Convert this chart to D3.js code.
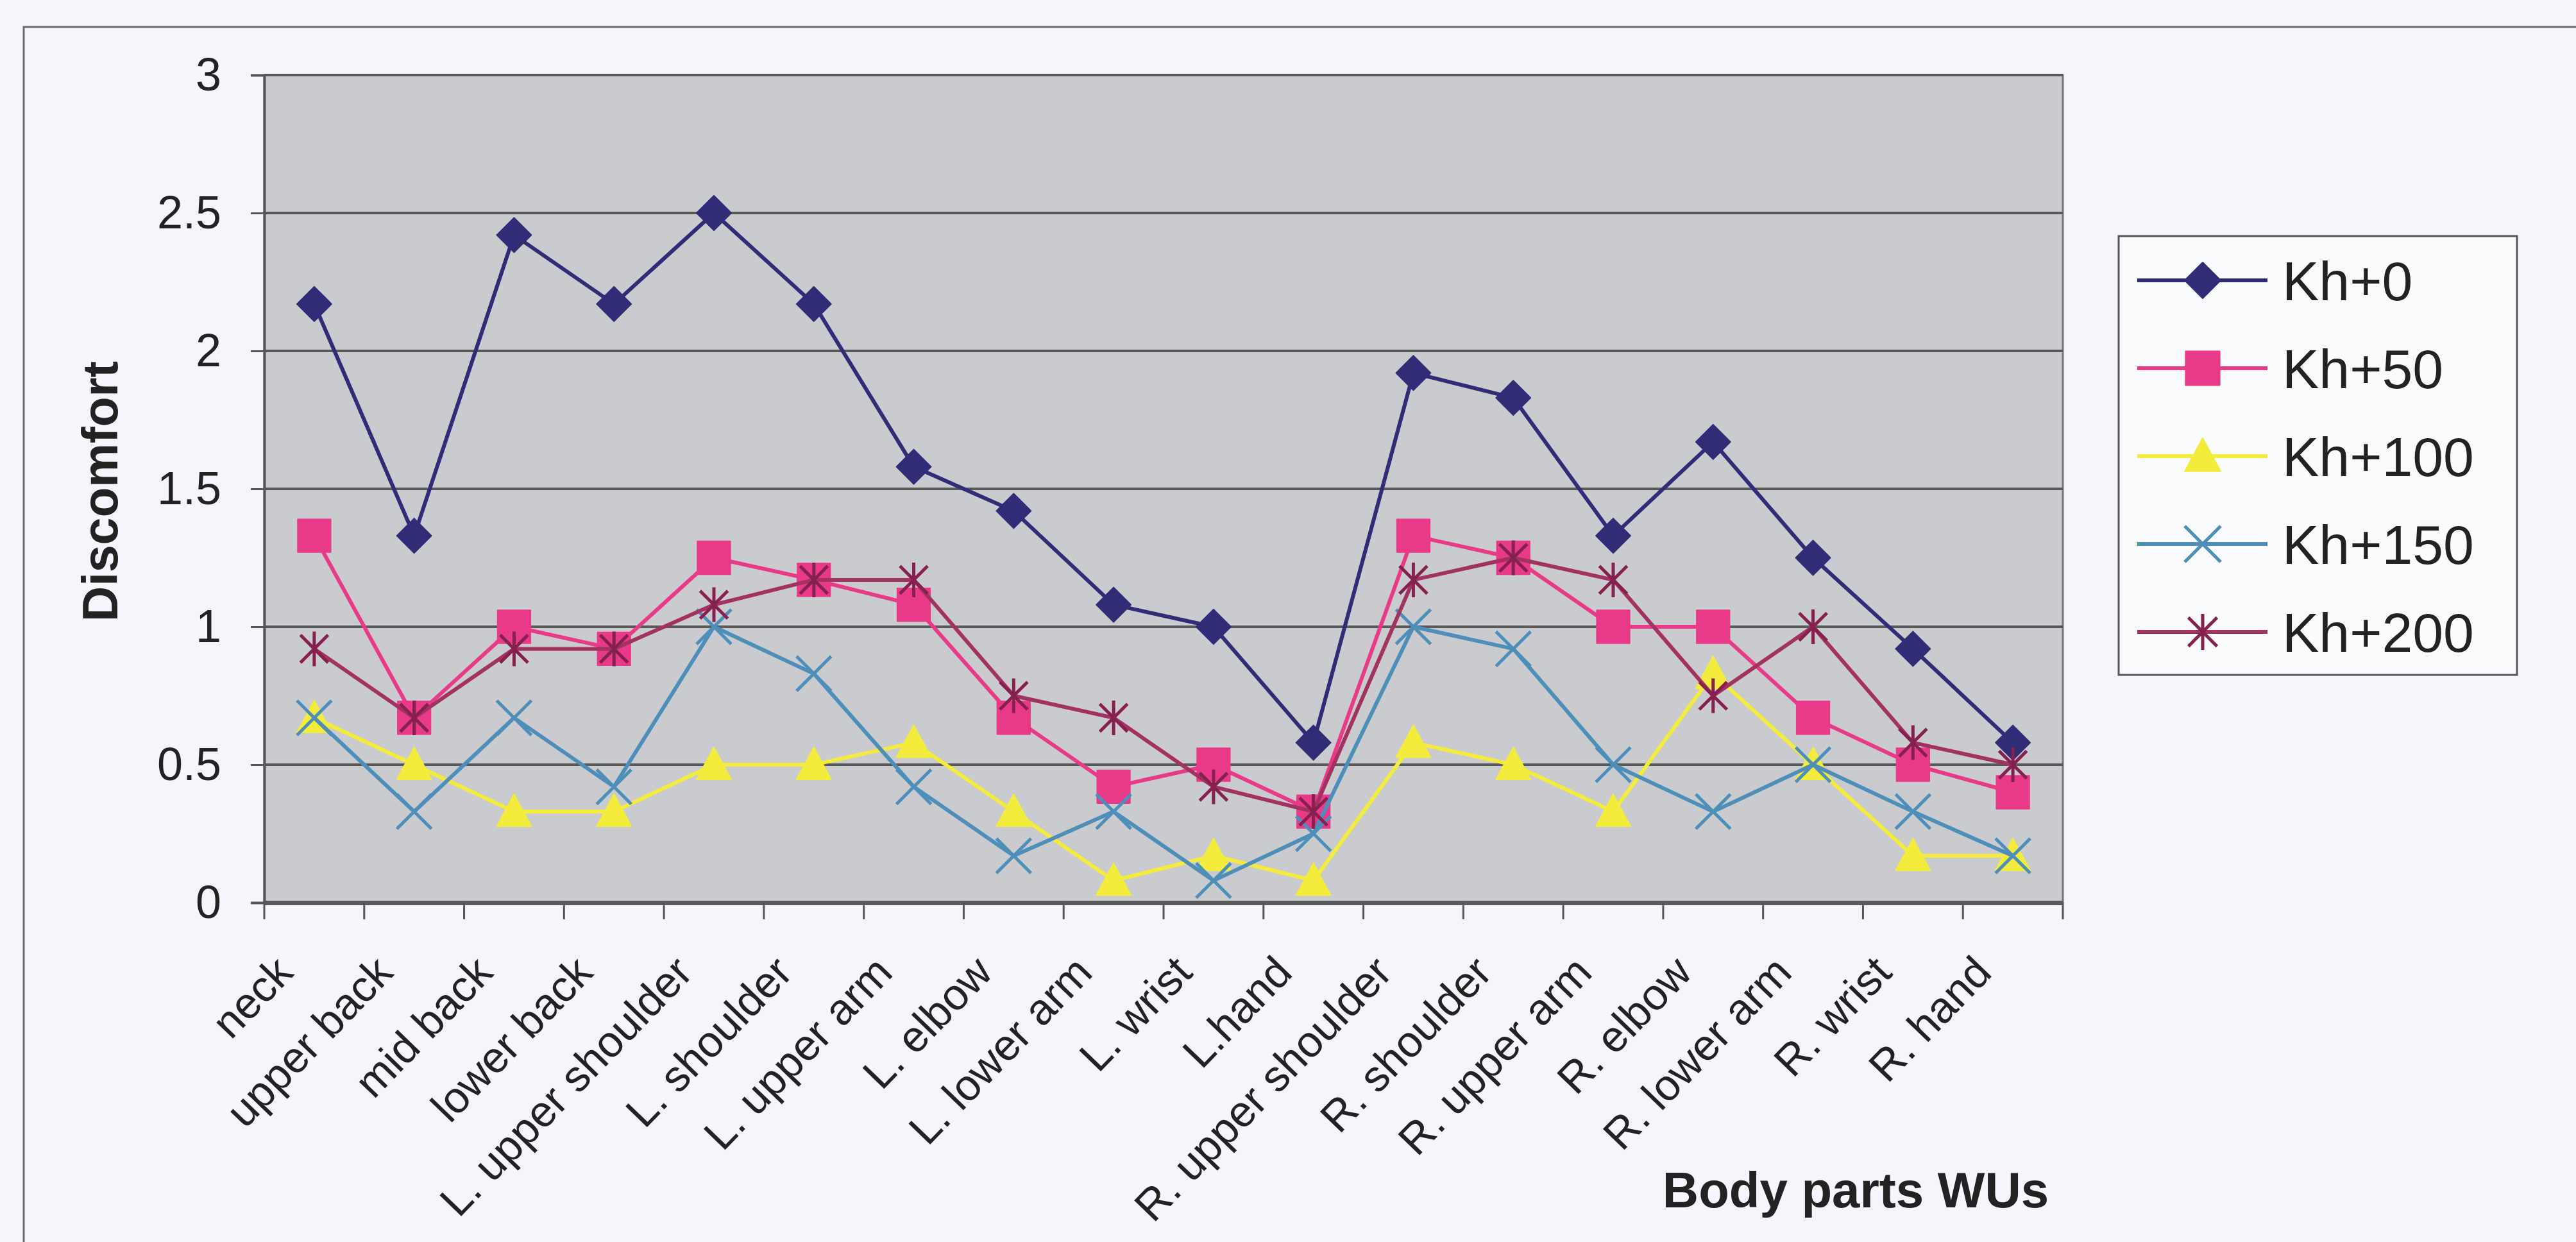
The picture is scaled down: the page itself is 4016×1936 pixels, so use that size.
<!DOCTYPE html>
<html>
<head>
<meta charset="utf-8">
<script src="https://cdn.jsdelivr.net/npm/d3@7"></script>
<style>
  html, body { margin: 0; padding: 0; background: #f4f6fb; }
  svg { display: block; }
</style>
</head>
<body>
<div id="wrapper"></div>
<script>
const bodyParts = ["neck", "upper back", "mid back", "lower back", "L. upper shoulder",
  "L. shoulder", "L. upper arm", "L. elbow", "L. lower arm", "L. wrist", "L.hand",
  "R. upper shoulder", "R. shoulder", "R. upper arm", "R. elbow", "R. lower arm",
  "R. wrist", "R. hand"];

const seriesNames = ["Kh+0", "Kh+50", "Kh+100", "Kh+150", "Kh+200"];

const kh0   = [2.17, 1.33, 2.42, 2.17, 2.50, 2.17, 1.58, 1.42, 1.08, 1.00, 0.58, 1.92, 1.83, 1.33, 1.67, 1.25, 0.92, 0.58];
const kh50  = [1.33, 0.67, 1.00, 0.92, 1.25, 1.17, 1.08, 0.67, 0.42, 0.50, 0.33, 1.33, 1.25, 1.00, 1.00, 0.67, 0.50, 0.40];
const kh100 = [0.67, 0.50, 0.33, 0.33, 0.50, 0.50, 0.58, 0.33, 0.08, 0.17, 0.08, 0.58, 0.50, 0.33, 0.83, 0.50, 0.17, 0.17];
const kh150 = [0.67, 0.33, 0.67, 0.42, 1.00, 0.83, 0.42, 0.17, 0.33, 0.08, 0.25, 1.00, 0.92, 0.50, 0.33, 0.50, 0.33, 0.17];
const kh200 = [0.92, 0.67, 0.92, 0.92, 1.08, 1.17, 1.17, 0.75, 0.67, 0.42, 0.33, 1.17, 1.25, 1.17, 0.75, 1.00, 0.58, 0.50];

const yTicks = [0, 0.5, 1, 1.5, 2, 2.5, 3];

const LINE_COLORS = ["#302c76", "#e83a88", "#f3ec3c", "#4e8fba", "#a23260"];
const MARK_COLORS = ["#302c76", "#e83a88", "#f3ec3c", "#4e8fba", "#86204e"];
const MARKERS = ["diamond", "square", "triangle", "cross", "star"];
const FONT = "'Liberation Sans', Arial, sans-serif";

const series = seriesNames.map((name, i) => ({
  name,
  values: [kh0, kh50, kh100, kh150, kh200][i],
  line: LINE_COLORS[i],
  mark: MARK_COLORS[i],
  marker: MARKERS[i]
}));

const width = 4016;
const height = 1936;
const plot = { left: 412, right: 3216, top: 117, bottom: 1407 };

// marker path centred at 0,0
const markerPath = (type, s) => {
  const h = s / 2;
  switch (type) {
    case "diamond": return `M0,${-h}L${h},0L0,${h}L${-h},0Z`;
    case "square": return `M${-h * 0.95},${-h * 0.95}H${h * 0.95}V${h * 0.95}H${-h * 0.95}Z`;
    case "triangle": return `M0,${-h}L${h},${h * 0.85}L${-h},${h * 0.85}Z`;
    case "cross": return `M${-h},${-h}L${h},${h}M${h},${-h}L${-h},${h}`;
    default: return `M${-h * 0.8},${-h * 0.8}L${h * 0.8},${h * 0.8}M${h * 0.8},${-h * 0.8}L${-h * 0.8},${h * 0.8}M0,${-h}V${h}`;
  }
};

const drawMarker = (sel, d, size) => {
  const open = d.marker === "cross" || d.marker === "star";
  sel.attr("d", markerPath(d.marker, size))
    .attr("fill", open ? "none" : d.mark)
    .attr("stroke", d.mark)
    .attr("stroke-width", open ? 5 : 2)
    .attr("stroke-linejoin", "round");
};

const svg = d3.select("#wrapper")
  .append("svg")
  .attr("width", width)
  .attr("height", height);

svg.append("rect")
  .attr("width", width).attr("height", height)
  .attr("fill", "#f4f6fb");

// outer chart frame (only top & left visible in the scan)
svg.append("path")
  .attr("d", `M37,${height}V42H${width}`)
  .attr("fill", "none")
  .attr("stroke", "#6a6a6a")
  .attr("stroke-width", 3);

const xScale = d3.scaleBand()
  .domain(bodyParts)
  .range([plot.left, plot.right]);

const yScale = d3.scaleLinear()
  .domain([0, 3])
  .range([plot.bottom, plot.top]);

// plot area
svg.append("rect")
  .attr("x", plot.left).attr("y", plot.top)
  .attr("width", plot.right - plot.left)
  .attr("height", plot.bottom - plot.top)
  .attr("fill", "#cacbcf")
  .attr("stroke", "#777")
  .attr("stroke-width", 3);

// gridlines
svg.append("g")
  .selectAll("line")
  .data(yTicks.filter(t => t > 0))
  .join("line")
  .attr("x1", plot.left).attr("x2", plot.right)
  .attr("y1", d => yScale(d)).attr("y2", d => yScale(d))
  .attr("stroke", "#585858")
  .attr("stroke-width", 4);

// y axis
const yAxis = svg.append("g")
  .attr("transform", `translate(${plot.left},0)`)
  .call(d3.axisLeft(yScale).tickValues(yTicks).tickSize(21).tickPadding(46).tickFormat(d3.format("")));
yAxis.select(".domain").attr("stroke", "#555").attr("stroke-width", 4);
yAxis.selectAll(".tick line").attr("stroke", "#555").attr("stroke-width", 3);
yAxis.selectAll("text")
  .attr("fill", "#222")
  .style("font-family", FONT)
  .style("font-size", "72px");

// x axis
const xAxis = svg.append("g")
  .attr("transform", `translate(0,${plot.bottom})`)
  .call(d3.axisBottom(xScale).tickSize(0).tickFormat(""));
xAxis.select(".domain").attr("stroke", "#5a5a5a").attr("stroke-width", 7);

svg.append("g")
  .selectAll("line")
  .data(d3.range(bodyParts.length + 1))
  .join("line")
  .attr("x1", i => plot.left + i * xScale.step())
  .attr("x2", i => plot.left + i * xScale.step())
  .attr("y1", plot.bottom)
  .attr("y2", plot.bottom + 26)
  .attr("stroke", "#555")
  .attr("stroke-width", 3);

svg.append("g")
  .selectAll("text")
  .data(bodyParts)
  .join("text")
  .attr("transform", d => `translate(${xScale(d) + xScale.bandwidth() / 2 - 30},${plot.bottom + 112}) rotate(-46)`)
  .attr("text-anchor", "end")
  .attr("fill", "#222")
  .style("font-family", FONT)
  .style("font-size", "68px")
  .text(d => d);

// lines
const line = d3.line()
  .x((v, i) => xScale(bodyParts[i]) + xScale.bandwidth() / 2)
  .y(v => yScale(v));

const seriesGroups = svg.append("g")
  .selectAll("g")
  .data(series)
  .join("g");

seriesGroups.append("path")
  .attr("d", d => line(d.values))
  .attr("fill", "none")
  .attr("stroke", d => d.line)
  .attr("stroke-width", 6)
  .attr("stroke-linejoin", "round");

seriesGroups.each(function (d) {
  d3.select(this).selectAll("path.mark")
    .data(d.values)
    .join("path")
    .attr("class", "mark")
    .attr("transform", (v, i) => `translate(${xScale(bodyParts[i]) + xScale.bandwidth() / 2},${yScale(v)})`)
    .each(function () { drawMarker(d3.select(this), d, 54); });
});

// axis titles
svg.append("text")
  .attr("transform", "translate(183,766) rotate(-90)")
  .attr("text-anchor", "middle")
  .attr("fill", "#222")
  .style("font-family", FONT)
  .style("font-weight", "bold")
  .style("font-size", "77px")
  .text("Discomfort");

svg.append("text")
  .attr("x", 2893)
  .attr("y", 1882)
  .attr("text-anchor", "middle")
  .attr("fill", "#222")
  .style("font-family", FONT)
  .style("font-weight", "bold")
  .style("font-size", "78px")
  .text("Body parts WUs");

// legend
const legend = svg.append("g");
legend.append("rect")
  .attr("x", 3303).attr("y", 368)
  .attr("width", 621).attr("height", 684)
  .attr("fill", "#fafbfd")
  .attr("stroke", "#555")
  .attr("stroke-width", 3);

const legendItems = legend.selectAll("g")
  .data(series)
  .join("g")
  .attr("transform", (d, i) => `translate(0,${437 + i * 137})`);

legendItems.append("line")
  .attr("x1", 3332).attr("x2", 3535)
  .attr("stroke", d => d.line)
  .attr("stroke-width", 6);

legendItems.append("path")
  .attr("transform", "translate(3434,0)")
  .each(function (d) { drawMarker(d3.select(this), d, 56); });

legendItems.append("text")
  .attr("x", 3558)
  .attr("dy", "0.36em")
  .attr("fill", "#222")
  .style("font-family", FONT)
  .style("font-size", "86px")
  .text(d => d.name);
</script>
</body>
</html>
